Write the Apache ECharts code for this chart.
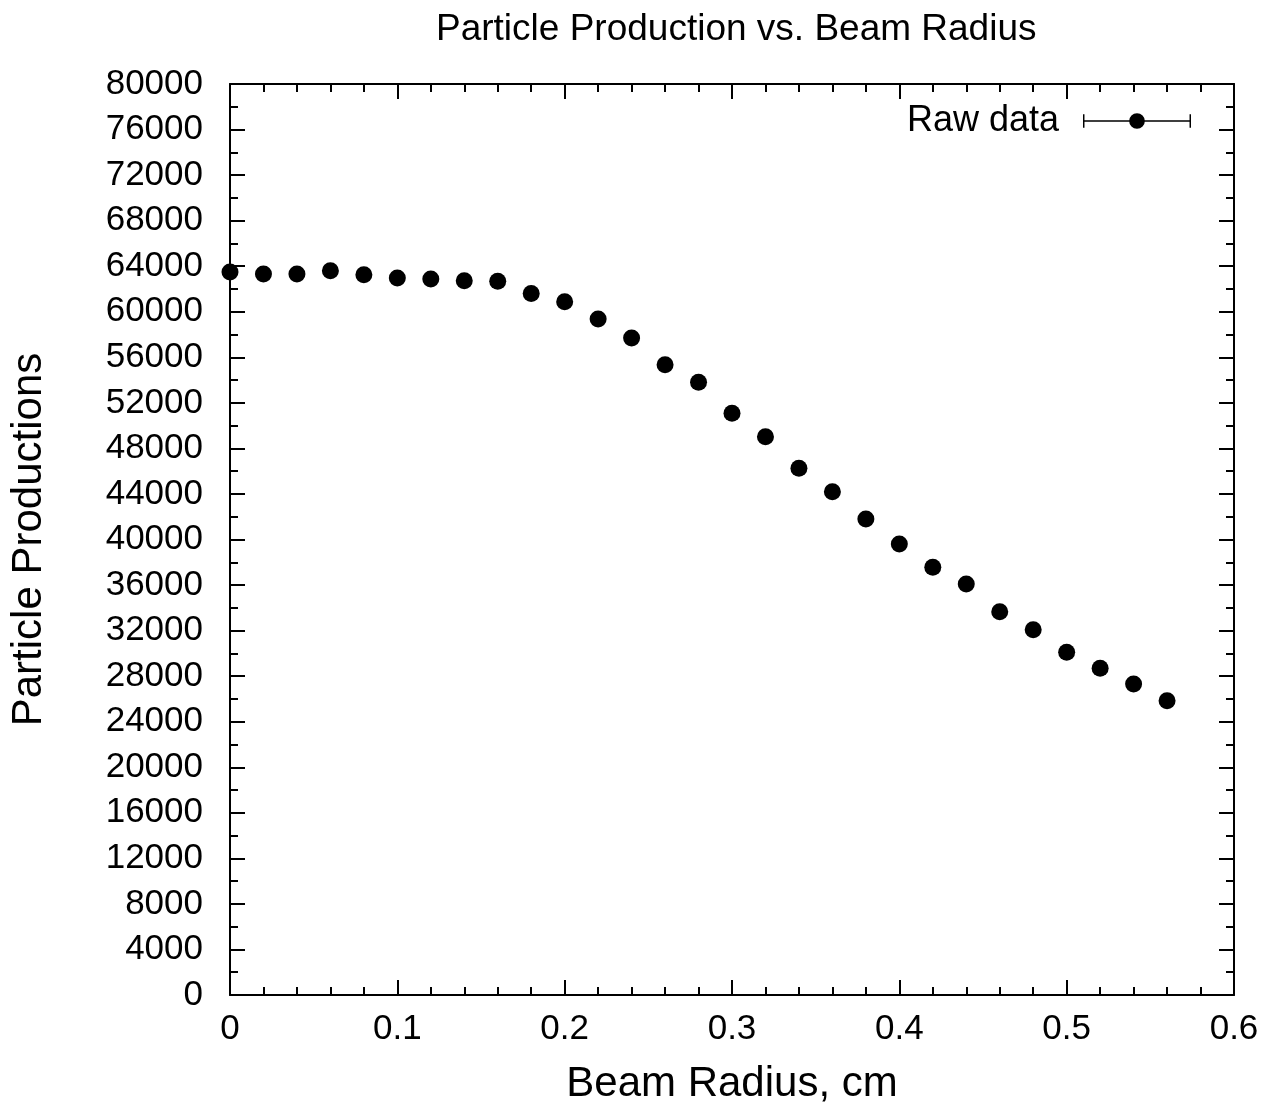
<!DOCTYPE html>
<html>
<head>
<meta charset="utf-8">
<script src="https://cdn.jsdelivr.net/npm/echarts@6/dist/echarts.min.js"></script>
<style>
html,body{margin:0;padding:0;background:#fff;}
#chart{width:1268px;height:1110px;}
</style>
</head>
<body>
<div id="chart"></div>
<script>
const beamRadius = [0, 0.02, 0.04, 0.06, 0.08, 0.10, 0.12, 0.14, 0.16, 0.18, 0.20, 0.22, 0.24, 0.26, 0.28,
  0.30, 0.32, 0.34, 0.36, 0.38, 0.40, 0.42, 0.44, 0.46, 0.48, 0.50, 0.52, 0.54, 0.56];
const production = [63490, 63310, 63310, 63600, 63250, 62960, 62870, 62720, 62670, 61610, 60880, 59360, 57690,
  55350, 53800, 51080, 49030, 46250, 44200, 41800, 39600, 37560, 36090, 33660, 32080, 30090, 28690, 27310, 25840];
const seriesName = 'Raw data';
const titleText = 'Particle Production vs. Beam Radius';
const xName = 'Beam Radius, cm';
const yName = 'Particle Productions';

const font = '"Liberation Sans", Arial, Helvetica, sans-serif';
const points = beamRadius.map((x, i) => [x, production[i]]);

const xBase = {
  type: 'value', min: 0, max: 0.6, interval: 0.1,
  axisLine: { show: true, onZero: false, lineStyle: { color: '#000', width: 2 } },
  axisTick: { show: true, inside: true, length: 15, lineStyle: { color: '#000', width: 2 } },
  minorTick: { show: true, splitNumber: 5, length: 8, lineStyle: { color: '#000', width: 2 } },
  splitLine: { show: false }, minorSplitLine: { show: false }
};
const yBase = {
  type: 'value', min: 0, max: 80000, interval: 4000,
  axisLine: { show: true, onZero: false, lineStyle: { color: '#000', width: 2 } },
  axisTick: { show: true, inside: true, length: 15, lineStyle: { color: '#000', width: 2 } },
  minorTick: { show: true, splitNumber: 2, length: 8, lineStyle: { color: '#000', width: 2 } },
  splitLine: { show: false }, minorSplitLine: { show: false }
};

const legendIcon = 'path://M0 1H1.5V15H0Z M108.5 1H110V15H108.5Z M0 7.25H110V8.75H0Z M63 8A8 8 0 1 1 47 8A8 8 0 1 1 63 8Z';

const chart = echarts.init(document.getElementById('chart'), null, { renderer: 'canvas' });
chart.setOption({
  animation: false,
  backgroundColor: '#fff',
  title: {
    text: titleText, left: 431, top: 6,
    textStyle: { fontFamily: font, fontSize: 37, fontWeight: 'normal', color: '#000' }
  },
  legend: {
    right: 72, top: 98, align: 'right', orient: 'vertical',
    itemWidth: 108, itemHeight: 16, icon: legendIcon,
    itemStyle: { opacity: 1 },
    textStyle: { fontFamily: font, fontSize: 36, color: '#000', padding: [0, 19, 0, 0] },
    data: [seriesName]
  },
  grid: { left: 228, right: 34, top: 84, bottom: 114, containLabel: false },
  xAxis: [
    Object.assign({}, xBase, {
      position: 'bottom', name: xName, nameLocation: 'middle', nameGap: 68,
      nameTextStyle: { fontFamily: font, fontSize: 42, color: '#000' },
      axisLabel: { show: true, margin: 17, fontFamily: font, fontSize: 35, color: '#000',
        formatter: v => String(+v.toFixed(2)) }
    }),
    Object.assign({}, xBase, { position: 'top', axisLabel: { show: false } })
  ],
  yAxis: [
    Object.assign({}, yBase, {
      position: 'left', name: yName, nameLocation: 'middle', nameGap: 180, nameRotate: 90,
      nameTextStyle: { fontFamily: font, fontSize: 42, color: '#000' },
      axisLabel: { show: true, margin: 27, fontFamily: font, fontSize: 35, color: '#000',
        formatter: v => String(v) }
    }),
    Object.assign({}, yBase, { position: 'right', axisLabel: { show: false } })
  ],
  series: [{
    name: seriesName, type: 'scatter', xAxisIndex: 0, yAxisIndex: 0,
    symbol: 'circle', symbolSize: 17,
    itemStyle: { color: '#000', opacity: 1 },
    data: points
  }]
});
</script>
</body>
</html>
